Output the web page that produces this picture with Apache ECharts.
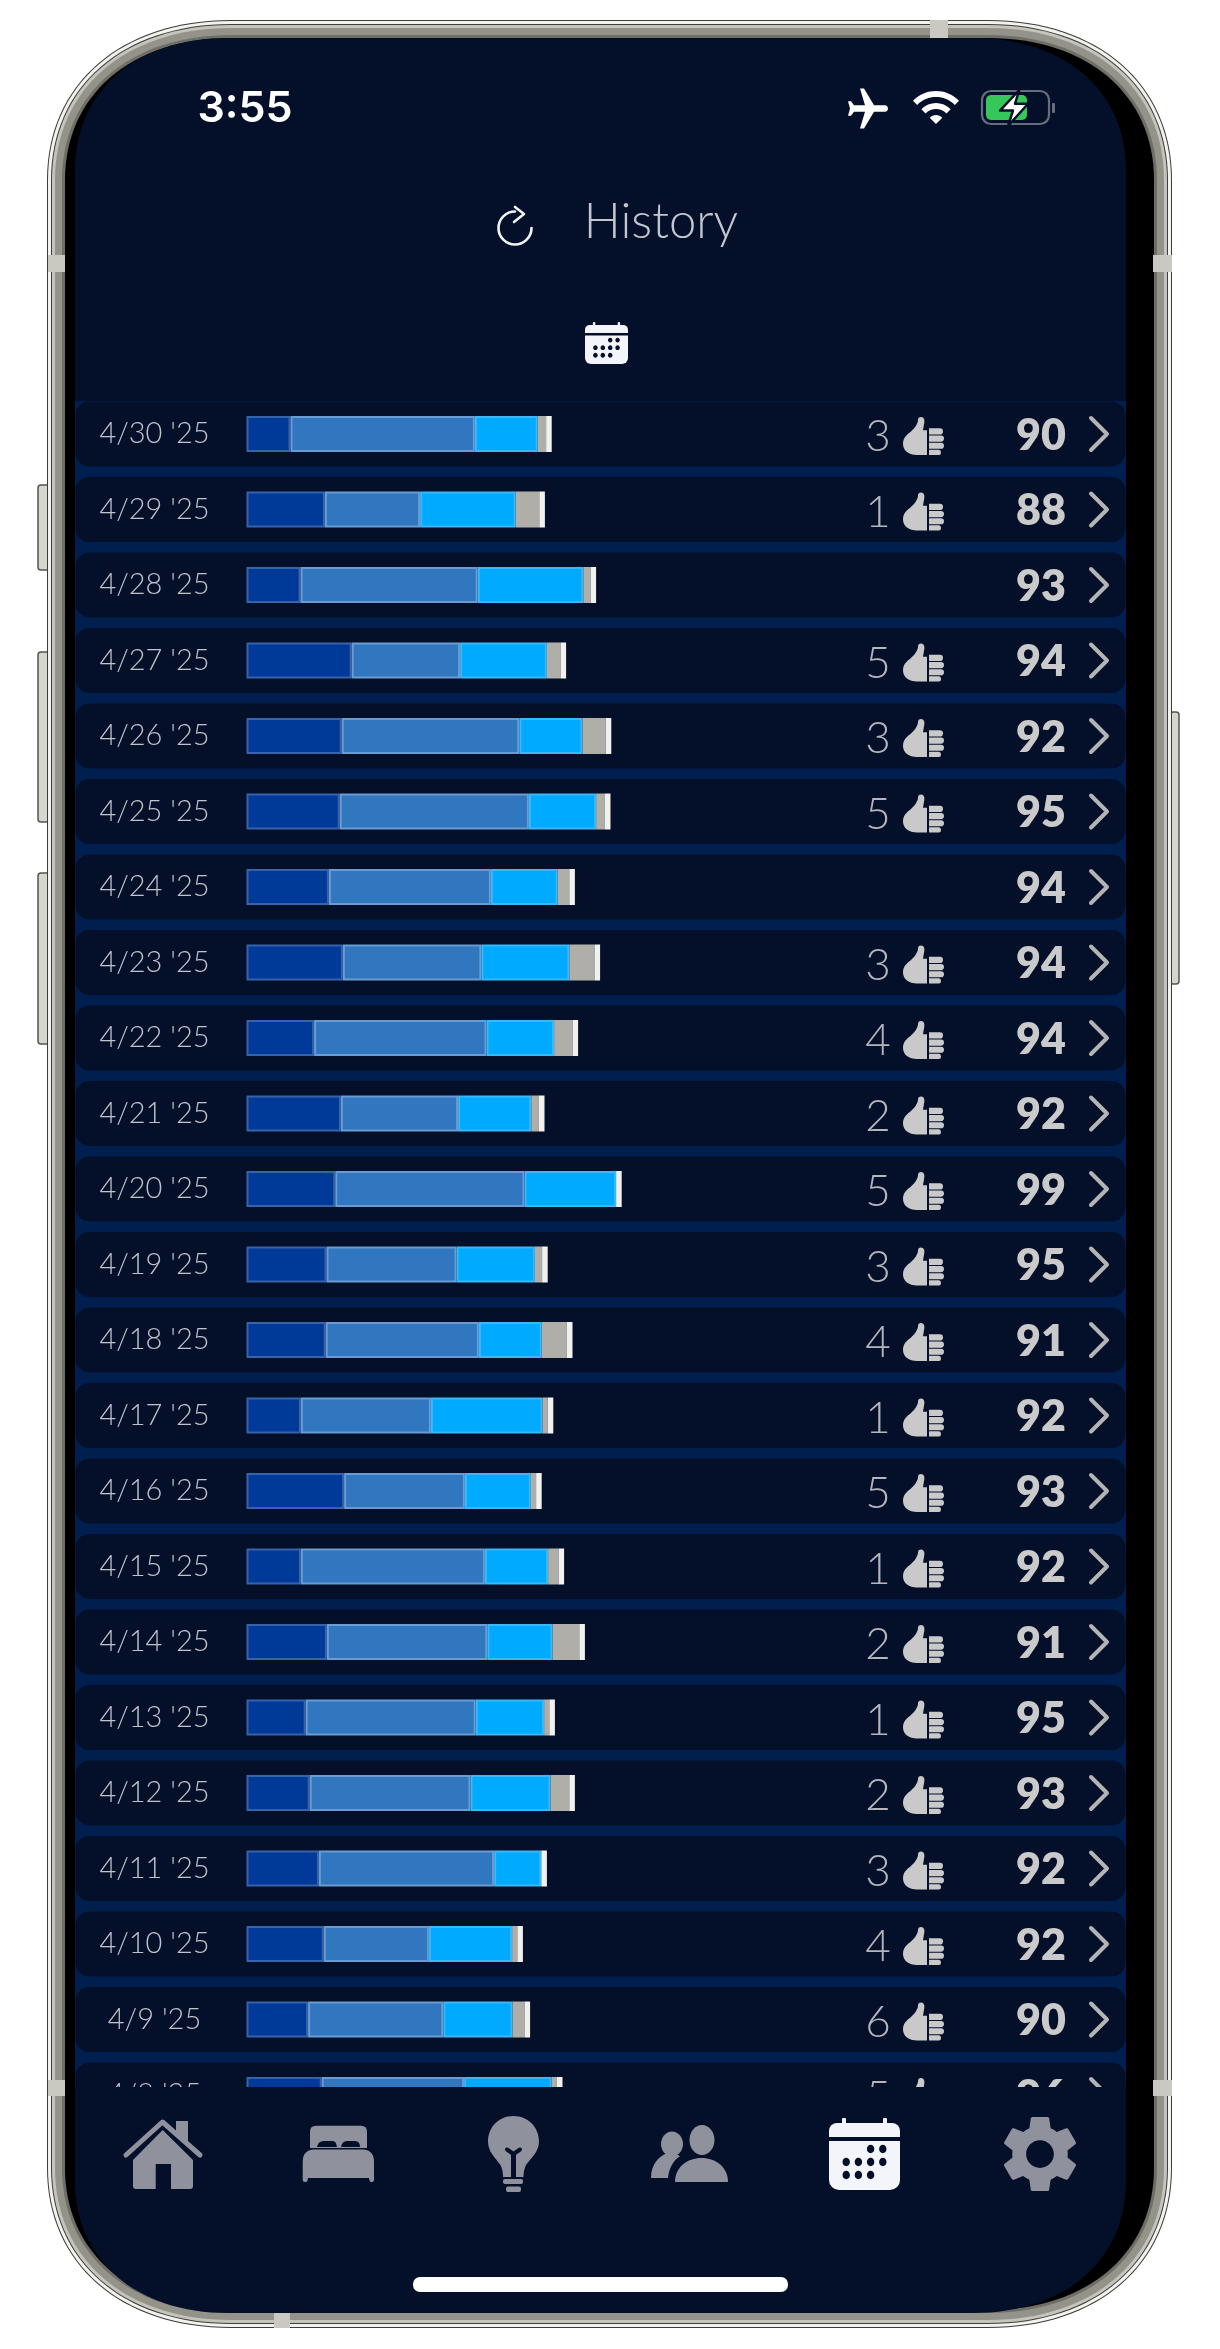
<!doctype html>
<html>
<head>
<meta charset="utf-8">
<title>History</title>
<style type="text/css">
	html,body{margin:0;padding:0;background:#fff;}
	#main{width:1220px;height:2349px;}
</style>
</head>
<body>
<div id="main"></div>
<script src="https://cdn.jsdelivr.net/npm/echarts@6/dist/echarts.min.js"></script>
<script>
// one row per night, newest first
var dates = ["4/30 '25","4/29 '25","4/28 '25","4/27 '25","4/26 '25","4/25 '25","4/24 '25","4/23 '25","4/22 '25","4/21 '25","4/20 '25","4/19 '25","4/18 '25","4/17 '25","4/16 '25","4/15 '25","4/14 '25","4/13 '25","4/12 '25","4/11 '25","4/10 '25","4/9 '25","4/8 '25"];
// hours
var deepVals = [1.10,1.96,1.35,2.63,2.38,2.33,2.06,2.41,1.69,2.36,2.22,2.00,1.98,1.36,2.44,1.36,2.01,1.48,1.58,1.81,1.93,1.54,1.88];
var lightVals = [4.61,2.38,4.43,2.71,4.44,4.73,4.05,3.46,4.31,2.93,4.73,3.25,3.83,3.25,3.02,4.60,4.01,4.25,4.02,4.38,2.63,3.38,3.56];
var remVals = [1.57,2.39,2.64,2.17,1.58,1.68,1.67,2.20,1.69,1.83,2.29,1.96,1.57,2.79,1.65,1.58,1.63,1.71,2.00,1.18,2.08,1.73,2.19];
var restlessVals = [0.21,0.59,0.18,0.34,0.58,0.22,0.29,0.63,0.46,0.19,0,0.18,0.63,0.13,0.13,0.26,0.67,0.13,0.47,0,0.13,0.30,0.13];
var awakeVals = [0.14,0.14,0.14,0.14,0.14,0.14,0.14,0.14,0.14,0.14,0.14,0.14,0.14,0.14,0.14,0.14,0.14,0.14,0.14,0.14,0.14,0.14,0.14];
var thumbs = [3,1,null,5,3,5,null,3,4,2,5,3,4,1,5,1,2,1,2,3,4,6,5];
var scores = [90,88,93,94,92,95,94,94,94,92,99,95,91,92,93,92,91,95,93,92,92,90,96];

var screenColor = '#041029';
var bandColor = '#011f4e';
var navGray = '#8f919d';
var uiFont = 'Lato, "Open Sans", sans-serif';

var thumbPath = 'M18 0C21 0 22 3 21 7L20 13H24V37H14C6 37 0 33 0 26C0 20 4 17 8 14C12 11 15 6 15 3C15 1 16 0 18 0Z'
	+ 'M26 11H37Q40 11 40 14Q40 17 37 17H26Z'
	+ 'M26 18H38Q41 18 41 21Q41 24 38 24H26Z'
	+ 'M26 25H38Q41 25 41 28Q41 31 38 31H26Z'
	+ 'M26 32H36Q38 32 38 34.5Q38 37 36 37H26Z';
var planePath = 'M21 16v-2l-8-5V3.5c0-.83-.67-1.5-1.5-1.5S10 2.67 10 3.5V9l-8 5v2l8-2.5V19l-2 1.5V22l3.5-1 3.5 1v-1.5L13 19v-5.5l8 2.5z';
var wifiPath = 'M1 9l2 2c4.97-4.97 13.03-4.97 18 0l2-2C16.93 2.93 7.08 2.93 1 9zm8 8l3 3 3-3c-1.65-1.66-4.34-1.66-6 0zm-4-4l2 2c2.76-2.76 7.24-2.76 10 0l2-2C15.14 9.14 8.87 9.14 5 13z';
var gearPath = 'M19.14 12.94c.04-.3.06-.61.06-.94 0-.32-.02-.64-.07-.94l2.03-1.58c.18-.14.23-.41.12-.61l-1.92-3.32c-.12-.22-.37-.29-.59-.22l-2.39.96c-.5-.38-1.03-.7-1.62-.94l-.36-2.54c-.04-.24-.24-.41-.48-.41h-3.84c-.24 0-.43.17-.47.41l-.36 2.54c-.59.24-1.13.57-1.62.94l-2.39-.96c-.22-.08-.47 0-.59.22L2.74 8.87c-.12.21-.08.47.12.61l2.03 1.58c-.05.3-.09.63-.09.94s.02.64.07.94l-2.03 1.58c-.18.14-.23.41-.12.61l1.92 3.32c.12.22.37.29.59.22l2.39-.96c.5.38 1.03.7 1.62.94l.36 2.54c.05.24.24.41.48.41h3.84c.24 0 .44-.17.47-.41l.36-2.54c.59-.24 1.13-.56 1.62-.94l2.39.96c.22.08.47 0 .59-.22l1.92-3.32c.12-.22.07-.47-.12-.61l-2.01-1.58zM12 15.6c-1.98 0-3.6-1.62-3.6-3.6s1.62-3.6 3.6-3.6 3.6 1.62 3.6 3.6-1.62 3.6-3.6 3.6z';

function rect(x,y,w,h,fill,r){
	return {type:'rect',shape:{x:x,y:y,width:w,height:h,r:r||0},style:{fill:fill}};
}
function path(d,x,y,w,h,fill,extra){
	var el = {type:'path',shape:{pathData:d,layout:'cover',x:x,y:y,width:w,height:h},style:{fill:fill}};
	if(extra){
		for(var k in extra){ el.style[k] = extra[k]; }
	}
	return el;
}
// path in page coordinates, no scaling
function shapeAt(d,fill){
	return {type:'path',shape:{pathData:d},style:{fill:fill}};
}
function oval(cx,cy,rx,ry,fill){
	return {type:'ellipse',shape:{cx:cx,cy:cy,rx:rx,ry:ry},style:{fill:fill}};
}
function label(text,x,y,font,fill,align){
	return {type:'text',x:x,y:y,style:{text:text,font:font,fill:fill,align:align||'center',verticalAlign:'middle'}};
}
// phone corners are not circular, wider than tall
function squircle(x,y,w,h,rx,ry,fill){
	var k = 0.6;
	var r = x+w;
	var b = y+h;
	var d = 'M'+(x+rx)+' '+y+'H'+(r-rx)
		+ 'C'+(r-rx+rx*k)+' '+y+' '+r+' '+(y+ry-ry*k)+' '+r+' '+(y+ry)
		+ 'V'+(b-ry)
		+ 'C'+r+' '+(b-ry+ry*k)+' '+(r-rx+rx*k)+' '+b+' '+(r-rx)+' '+b
		+ 'H'+(x+rx)
		+ 'C'+(x+rx-rx*k)+' '+b+' '+x+' '+(b-ry+ry*k)+' '+x+' '+(b-ry)
		+ 'V'+(y+ry)
		+ 'C'+x+' '+(y+ry-ry*k)+' '+(x+rx-rx*k)+' '+y+' '+(x+rx)+' '+y+'Z';
	return shapeAt(d,fill);
}
function rim(inset,fill){
	return squircle(47+inset,20+inset,1125-2*inset,2308-2*inset,184-inset,160-inset,fill);
}
function sideButton(x,y,w,h){
	return {type:'rect',shape:{x:x,y:y,width:w,height:h,r:3},style:{fill:'#d6d6d0',stroke:'#55554f',lineWidth:1.5}};
}

// calendar glyph, also used at small size in the header
function calendarIcon(x,y,w,h){
	var out = [];
	var s = w/71;
	var k = h/72;
	out.push(rect(x,y+5*k,w,14*k,'#f4f5fa',[8*s,8*s,0,0]));
	out.push(rect(x+13*s,y,4*s,9*k,'#f4f5fa',1));
	out.push(rect(x+54*s,y,4*s,9*k,'#f4f5fa',1));
	out.push(rect(x,y+23*k,w,49*k,'#f4f5fa',[0,0,10*s,10*s]));
	// dots, same pattern at both sizes
	var dots = [[3,0],[4,0],[1,1],[2,1],[3,1],[4,1],[1,2],[2,2],[3,2]];
	for(var i=0;i<dots.length;i++){
		out.push(oval(x+(5+dots[i][0]*12.2)*s,y+(31+dots[i][1]*13)*k,3.7*s,4.2*k,screenColor));
	}
	return out;
}

function phoneShell(){
	var e = [];
	e.push(sideButton(38,485,12,85));
	e.push(sideButton(38,652,12,170));
	e.push(sideButton(38,873,12,171));
	e.push(sideButton(1170,712,9,272));
	// metal rim, from the outside in
	e.push(rim(0,'#3c3c38'));
	e.push(rim(1,'#f2f2ee'));
	e.push(rim(4,'#3e3e3a'));
	e.push(rim(5,'#c4c4bc'));
	e.push(rim(8,'#93938a'));
	e.push(rim(15,'#6f6f68'));
	e.push(rim(18,'#000'));
	// antenna breaks
	e.push(rect(930,20,18,18,'#c9c9c2'));
	e.push(rect(48,255,17,17,'#c9c9c2'));
	e.push(rect(1153,255,19,17,'#c9c9c2'));
	e.push(rect(48,2080,17,16,'#c9c9c2'));
	e.push(rect(1153,2080,19,16,'#c9c9c2'));
	e.push(rect(274,2313,16,15,'#c9c9c2'));
	// screen and the blue strip behind the rows
	e.push(squircle(75,38,1051,2275,153,132,screenColor));
	e.push(rect(75,401,1051,1691,bandColor));
	return e;
}

function statusAndHeader(){
	var e = [];
	e.push(label('3:55',245,109,'600 43px Inter, Roboto, sans-serif','#fff'));
	var plane = path(planePath,848,88.5,40,40,'#fff');
	plane.rotation = -Math.PI/2;
	plane.originX = 868;
	plane.originY = 108.5;
	e.push(plane);
	e.push(path(wifiPath,913,91,46,33,'#fff'));
	// battery
	e.push({type:'rect',shape:{x:982,y:91,width:67,height:33,r:9},style:{fill:'none',stroke:'#666d7c',lineWidth:2.2}});
	e.push(rect(986,95,41,25,'#35c759',5));
	e.push(rect(1052,103,3,10,'#666d7c',1));
	e.push(path('M55 0L0 60H37L23 105L80 40H43Z',1000,90,28,36,'#fff',{stroke:screenColor,lineWidth:2.5,lineJoin:'round'}));
	// title
	e.push(label('History',661,222,'300 49px '+uiFont,'#c3c6ce'));
	e.push({type:'arc',shape:{cx:515,cy:228,r:16.5,startAngle:0,endAngle:Math.PI*1.5,clockwise:true},style:{fill:'none',stroke:'#f2f2f2',lineWidth:2.6,lineCap:'round'}});
	e.push({type:'polyline',shape:{points:[[515,207],[524,214],[514,222]]},style:{fill:'none',stroke:'#f2f2f2',lineWidth:2.6,lineCap:'round',lineJoin:'round'}});
	return e.concat(calendarIcon(585,322,43,42));
}

function navBar(){
	var e = [];
	// hides the row that runs under the nav bar
	e.push(rect(75,2087,1051,50,screenColor));

	// home
	e.push(shapeAt('M176 2121H188V2144L176 2134Z',navGray));
	e.push({type:'polyline',shape:{points:[[126,2155],[162.5,2122],[200,2155]]},style:{fill:'none',stroke:navGray,lineWidth:5,lineCap:'round',lineJoin:'round'}});
	e.push(shapeAt('M133 2160L162.7 2130L193 2160V2186Q193 2189 190 2189H171V2164H155.7V2189H136Q133 2189 133 2186Z',navGray));

	// bed
	e.push(shapeAt('M316 2125.7H361Q367 2125.7 367 2132V2148H310V2132Q310 2125.7 316 2125.7Z',navGray));
	e.push(shapeAt('M317 2147Q318 2141 324 2141H333Q336 2141 337 2147Z',screenColor));
	e.push(shapeAt('M341 2147Q342 2141 347 2141H355Q360 2141 360 2147Z',screenColor));
	e.push(shapeAt('M314 2149.5H363Q374 2150 374 2162V2180Q374 2182 372 2182H371Q369.5 2182 369 2178H308Q307.5 2182 306 2182H305Q302.7 2182 302.7 2180V2162Q302.7 2150 314 2149.5Z',navGray));

	// bulb
	e.push(shapeAt('M513.3 2116C528 2116 539 2127 539 2141.5C539 2152 531 2158 526 2165C524 2169 523.5 2173 523.5 2177H503C503 2173 502.5 2169 500.5 2165C495.5 2158 488 2152 488 2141.5C488 2127 499 2116 513.3 2116Z',navGray));
	e.push({type:'polyline',shape:{points:[[507,2149.5],[513.5,2154],[520,2149.5]]},style:{fill:'none',stroke:screenColor,lineWidth:4,lineCap:'round',lineJoin:'round'}});
	e.push(rect(511,2152,5,25,screenColor));
	e.push(rect(503,2179,20,5,navGray,2));
	e.push(rect(506,2186.5,15,5.5,navGray,2));

	// people
	e.push(oval(672,2144,11,12.5,navGray));
	e.push(oval(702,2140,12.5,15,navGray));
	e.push(path('M0 30C0 14 8 4 19 0C23 1 27 3 29 5C22 10 18 19 17 30Z',651,2152,29,26,navGray));
	e.push(path('M0 26C0 10 12 0 26.5 0C41 0 53 10 53 26Z',675,2158,53,24,navGray));

	// history tab is the active one
	e = e.concat(calendarIcon(829,2118,71,72));

	// settings
	e.push(path(gearPath,1004,2117,72,74,navGray));

	// home indicator
	e.push(rect(413,2277,375,15,'#fff',7));
	return e;
}

// row card, thumbs count, score and chevron
function renderRow(params,api){
	var i = params.dataIndex;
	var y = api.coord([0,i])[1];
	var kids = [];
	kids.push({type:'rect',shape:{x:75.5,y:y-32.5,width:1050,height:65,r:14},style:{fill:screenColor}});
	if(thumbs[i] != null){
		kids.push({type:'text',x:878,y:y+3,style:{text:String(thumbs[i]),font:'300 44px '+uiFont,fill:'#b4b6bc',align:'center',verticalAlign:'middle'}});
		kids.push(path(thumbPath,903,y-17,41,38,'#c9c9c9'));
	}
	kids.push({type:'text',x:1066,y:y+2,style:{text:String(scores[i]),font:'800 43px '+uiFont,fill:'#cacaca',align:'right',verticalAlign:'middle'}});
	kids.push({type:'polyline',shape:{points:[[1091,y-16],[1107,y],[1091,y+16]]},style:{fill:'none',stroke:'#b4b4b4',lineWidth:4,lineCap:'round',lineJoin:'round'}});
	return {type:'group',children:kids};
}

var rowData = [];
for(var n=0;n<dates.length;n++){
	rowData.push([0,n]);
}

function stageSeries(name,vals,fill,edge){
	return {
		name:name,
		type:'bar',
		stack:'night',
		z:3,
		barWidth:edge ? 36 : 38,
		data:vals,
		itemStyle:{color:fill,borderColor:edge||fill,borderWidth:edge ? 2 : 0}
	};
}

var myChart = echarts.init(document.getElementById('main'),null,{renderer:'canvas'});

var option = {
	animation:false,
	backgroundColor:'#fff',
	tooltip:{show:false},
	legend:{show:false},
	grid:{left:246.5,top:396.25,width:880,height:1736.5},
	xAxis:{type:'value',min:0,max:22,show:false},
	yAxis:{
		type:'category',
		inverse:true,
		data:dates,
		z:4,
		axisLine:{show:false},
		axisTick:{show:false},
		splitLine:{show:false},
		axisLabel:{
			color:'#c0c3ca',
			fontFamily:'Lato',
			fontWeight:300,
			fontSize:29,
			align:'center',
			margin:92,
			padding:[6,0,0,0]
		}
	},
	series:[
		// phone body sits under everything else
		{type:'custom',z:0,silent:true,data:[[0,0]],encode:{x:0,y:1},renderItem:function(){
			return {type:'group',children:phoneShell()};
		}},
		{type:'custom',z:1,silent:true,data:rowData,encode:{x:0,y:1},renderItem:renderRow},
		stageSeries('Deep',deepVals,'#003a98','#3763ab'),
		stageSeries('Light',lightVals,'#3077c0','#6a9bd2'),
		stageSeries('REM',remVals,'#00aaff','#3ab8f8'),
		stageSeries('Restless',restlessVals,'#b0aea8'),
		stageSeries('Awake',awakeVals,'#f1f1f0'),
		// status bar, title and nav bar cover the clipped last row
		{type:'custom',z:10,silent:true,data:[[0,0]],encode:{x:0,y:1},renderItem:function(){
			return {type:'group',children:statusAndHeader().concat(navBar())};
		}}
	]
};

myChart.setOption(option);
</script>
</body>
</html>
